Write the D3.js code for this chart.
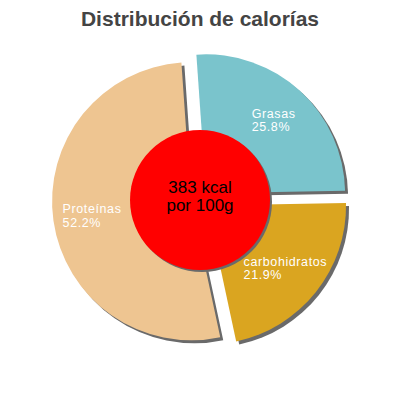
<!DOCTYPE html>
<html>
<head>
<meta charset="utf-8">
<script src="https://cdn.jsdelivr.net/npm/d3@7"></script>
<style>
  html, body { margin: 0; padding: 0; background: #fff; }
  svg { display: block; font-family: "Liberation Sans", Arial, sans-serif; }
</style>
</head>
<body>
<div id="chart"></div>
<script>
const title = 'Distribución de calorías'
const categories = ['Grasas', 'carbohidratos', 'Proteínas']
const percents = [25.8, 21.9, 52.2]
const colors = ['#7ac4cc', '#daa520', '#eec591']
const centerLines = ['383 kcal', 'por 100g']

const width = 400
const height = 400
const cx = 200
const cy = 200
const radius = 139
const innerDisc = 70
const sliceOffset = 9
const shadow = 3
const start = -4 * Math.PI / 180

const svg = d3.select('#chart')
  .append('svg')
  .attr('width', width)
  .attr('height', height)

svg.append('text')
  .attr('x', width / 2)
  .attr('y', 26)
  .attr('text-anchor', 'middle')
  .style('font-size', '21px')
  .style('font-weight', 'bold')
  .style('fill', '#444')
  .text(title)

const data = categories.map((name, i) => ({ name, value: percents[i], color: colors[i] }))

const pie = d3.pie()
  .sort(null)
  .value((d) => d.value)
  .startAngle(start)
  .endAngle(start + 2 * Math.PI)

const arc = d3.arc().innerRadius(0).outerRadius(radius)
const labelArc = d3.arc().innerRadius(100).outerRadius(100)

const arcs = pie(data)

const shift = (d) => {
  const a = (d.startAngle + d.endAngle) / 2
  return [Math.sin(a) * sliceOffset, -Math.cos(a) * sliceOffset]
}

const g = svg.append('g').attr('transform', `translate(${cx}, ${cy})`)

// shadows first, then the slices on top
g.selectAll('path.shadow')
  .data(arcs)
  .enter()
  .append('path')
  .attr('class', 'shadow')
  .attr('d', arc)
  .attr('fill', '#6a6a6a')
  .attr('transform', (d) => {
    const [dx, dy] = shift(d)
    return `translate(${dx + shadow}, ${dy + shadow})`
  })

g.selectAll('path.slice')
  .data(arcs)
  .enter()
  .append('path')
  .attr('class', 'slice')
  .attr('d', arc)
  .attr('fill', (d) => d.data.color)
  .attr('transform', (d) => {
    const [dx, dy] = shift(d)
    return `translate(${dx}, ${dy})`
  })

const labels = g.selectAll('g.label')
  .data(arcs)
  .enter()
  .append('g')
  .attr('class', 'label')

labels.each(function (d) {
  const [dx, dy] = shift(d)
  const [lx, ly] = labelArc.centroid(d)
  const el = d3.select(this)
  const lines = [d.data.name, d.data.value.toFixed(1) + '%']
  let w = 0
  lines.forEach((line, i) => {
    const t = el.append('text')
      .attr('x', 0)
      .attr('y', -2 + i * 13.5)
      .style('font-size', '12.5px')
      .style('letter-spacing', '0.6px')
      .style('fill', '#fff')
      .text(line)
    w = Math.max(w, t.node().getComputedTextLength())
  })
  el.attr('transform', `translate(${lx + dx - w / 2}, ${ly + dy})`)
})

g.append('circle')
  .attr('cx', shadow - 1)
  .attr('cy', shadow - 1)
  .attr('r', innerDisc)
  .attr('fill', '#6a6a6a')

g.append('circle')
  .attr('r', innerDisc)
  .attr('fill', '#ff0000')

g.append('text')
  .attr('text-anchor', 'middle')
  .style('font-size', '17px')
  .style('fill', '#000')
  .selectAll('tspan')
  .data(centerLines)
  .enter()
  .append('tspan')
  .attr('x', 0)
  .attr('y', (d, i) => -7 + i * 18)
  .text((d) => d)
</script>
</body>
</html>
